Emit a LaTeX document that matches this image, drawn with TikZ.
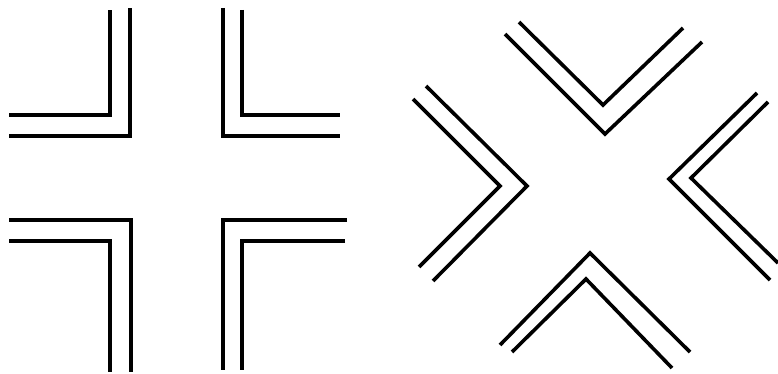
\documentclass[tikz,border=0pt]{standalone}
\begin{document}
\begin{tikzpicture}[x=1pt,y=-1pt,
  wall/.style={line width=3.6pt,line cap=butt,line join=miter,draw=black}]
\useasboundingbox[fill=white] (0,0) rectangle (778,374);
% left figure: four corner pieces
\draw[wall] (9,115) -- (110,115) -- (110,10);
\draw[wall] (9,136) -- (130,136) -- (130,8);
\draw[wall] (242,10) -- (242,115) -- (340,115);
\draw[wall] (223,8) -- (223,136) -- (340,136);
\draw[wall] (9,220) -- (131,220) -- (131,372);
\draw[wall] (9,241) -- (110,241) -- (110,372);
\draw[wall] (347,220) -- (223,220) -- (223,370);
\draw[wall] (345,241) -- (242,241) -- (242,370);
% right figure: four chevrons
\draw[wall] (519,22) -- (603,105) -- (683,28);
\draw[wall] (505,34) -- (605,134) -- (702,42);
\draw[wall] (426,86) -- (527,186) -- (433,281);
\draw[wall] (413,99) -- (500,186) -- (419,267);
\draw[wall] (757,93) -- (669,179) -- (770,280);
\draw[wall] (768,102) -- (691,178) -- (778,263);
\draw[wall] (500,345) -- (590,253) -- (690,352);
\draw[wall] (512,352) -- (586,279) -- (672,368);
\end{tikzpicture}
\end{document}
